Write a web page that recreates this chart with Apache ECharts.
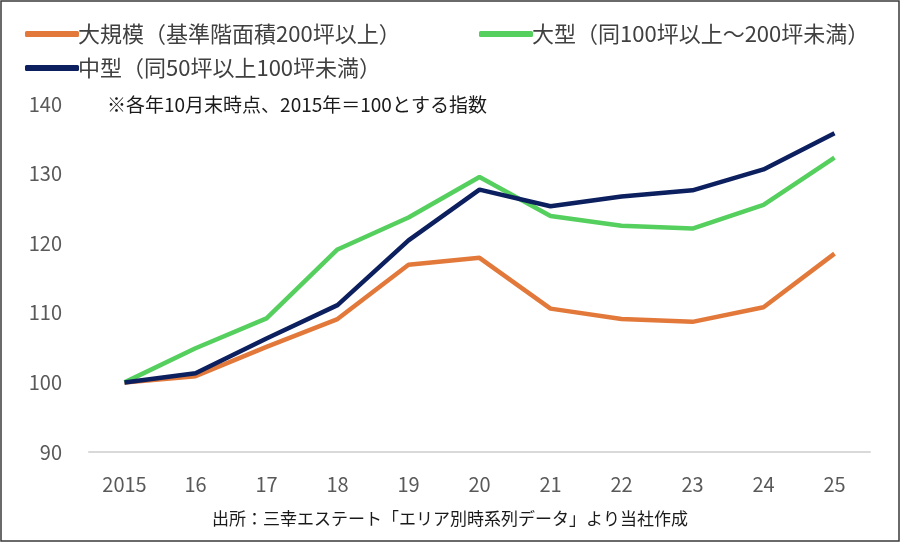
<!DOCTYPE html>
<html>
<head>
<meta charset="utf-8">
<script src="https://cdn.jsdelivr.net/npm/echarts@6/dist/echarts.min.js"></script>
<style>
html,body{margin:0;padding:0;background:#fff;}
#c{width:900px;height:542px;}
</style>
</head>
<body>
<div id="c"></div>
<script>
const categories = ['2015','16','17','18','19','20','21','22','23','24','25'];
const seriesNames = ['大規模（基準階面積200坪以上）','大型（同100坪以上～200坪未満）','中型（同50坪以上100坪未満）'];
const largeScale = [100, 100.9, 105.1, 109.1, 116.9, 117.9, 110.6, 109.1, 108.7, 110.8, 118.5];
const large = [100, 104.9, 109.2, 119.1, 123.7, 129.5, 123.9, 122.5, 122.1, 125.5, 132.3];
const medium = [100, 101.3, 106.3, 111.1, 120.4, 127.7, 125.3, 126.7, 127.6, 130.6, 135.8];
const yTicks = {min: 90, max: 140, interval: 10};
const noteText = '※各年10月末時点、2015年＝100とする指数';
const sourceText = '出所：三幸エステート「エリア別時系列データ」より当社作成';

const colors = ['#E2793B', '#55CF5E', '#0C1F5E'];
const font = '"Noto Sans CJK JP", "Noto Sans", sans-serif';

const chart = echarts.init(document.getElementById('c'), null, {renderer: 'canvas'});
const legendBase = {
  icon: 'roundRect', itemWidth: 54, itemHeight: 6, itemGap: 10,
  textStyle: {fontSize: 22, color: '#404040', fontFamily: font, padding: [0,0,0,-6]},
  selectedMode: false
};
chart.setOption({
  animation: false,
  color: colors,
  graphic: [
    {type: 'rect', shape: {x: 1, y: 1, width: 898, height: 540}, style: {fill: 'none', stroke: '#3a3a3a', lineWidth: 1.5}, silent: true},
    {type: 'text', left: 107, top: 95, style: {text: noteText, fontSize: 19, fill: '#1a1a1a', fontFamily: font}},
    {type: 'text', left: 'center', top: 510, style: {text: sourceText, fontSize: 17, fill: '#1a1a1a', fontFamily: font}}
  ],
  legend: [
    Object.assign({}, legendBase, {data: [seriesNames[0]], left: 20, top: 18}),
    Object.assign({}, legendBase, {data: [seriesNames[1]], left: 474, top: 18}),
    Object.assign({}, legendBase, {data: [seriesNames[2]], left: 20, top: 52})
  ],
  grid: {left: 89, right: 30, top: 104, bottom: 90, containLabel: false},
  xAxis: {
    type: 'category', data: categories, boundaryGap: true,
    axisLine: {lineStyle: {color: '#d9d9d9', width: 2}},
    axisTick: {show: false},
    axisLabel: {fontSize: 20, color: '#595959', fontFamily: font, margin: 22}
  },
  yAxis: {
    type: 'value', min: yTicks.min, max: yTicks.max, interval: yTicks.interval,
    axisLine: {show: false}, axisTick: {show: false}, splitLine: {show: false},
    axisLabel: {fontSize: 20, color: '#595959', fontFamily: font, margin: 27}
  },
  series: [
    {name: seriesNames[0], type: 'line', data: largeScale, symbol: 'none', lineStyle: {width: 4.5, color: colors[0]}, z: 3},
    {name: seriesNames[1], type: 'line', data: large, symbol: 'none', lineStyle: {width: 4.5, color: colors[1]}, z: 4},
    {name: seriesNames[2], type: 'line', data: medium, symbol: 'none', lineStyle: {width: 4.5, color: colors[2]}, z: 5}
  ]
});
</script>
</body>
</html>
